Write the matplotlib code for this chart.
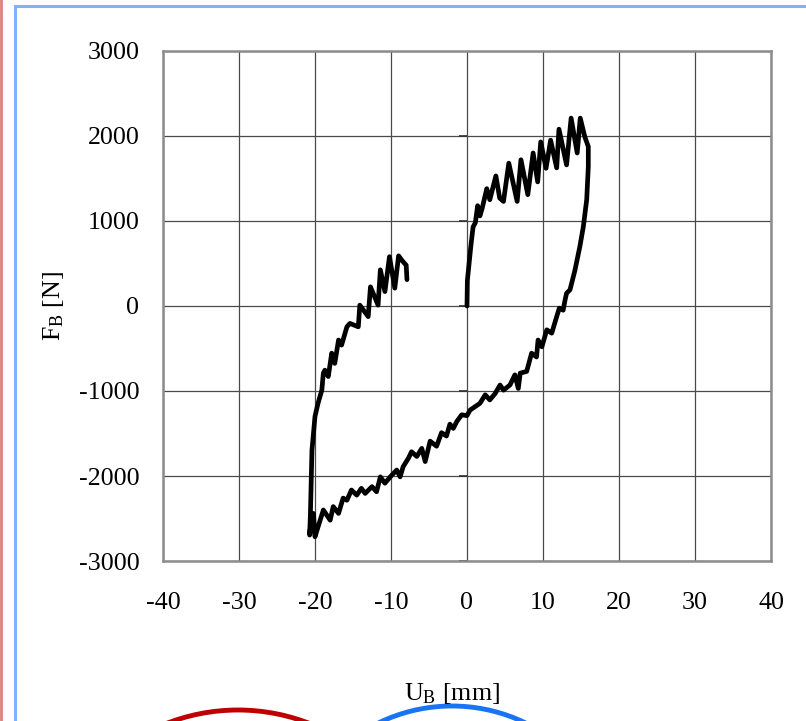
import numpy as np
import matplotlib.pyplot as plt
from matplotlib.lines import Line2D
from matplotlib.patches import Ellipse

plt.rcParams['font.family'] = ['Liberation Serif', 'DejaVu Serif']
plt.rcParams['mathtext.fontset'] = 'custom'
plt.rcParams['mathtext.rm'] = 'Liberation Serif'
plt.rcParams['axes.unicode_minus'] = False

# hysteresis trace, displacement U_B [mm] and force F_B [N]
u_mm = [0, 0.05, 0.5, 0.8, 1.1, 1.4, 1.7, 2.0, 2.6, 3.0, 3.8, 4.3, 4.8, 5.5, 6.6, 7.1,
        8.0, 8.7, 9.3, 9.7, 10.4, 11.0, 11.8, 12.1, 13.1, 13.7, 14.5, 14.9, 15.5, 15.96,
        15.96, 15.75, 15.3, 14.85, 14.2, 13.55, 13.1, 12.9, 12.65, 12.15, 11.8, 11.15,
        10.5, 9.85, 9.35, 9.15, 8.5, 7.85, 7.0, 6.75, 6.3, 5.65, 4.8, 4.35, 3.7, 3.0,
        2.4, 1.7, 1.05, 0.4, 0.0, -0.7, -1.35, -1.8, -2.25, -2.7, -3.35, -4.0, -4.85,
        -5.5, -5.95, -6.6, -7.3, -7.7, -8.4, -8.8, -9.25, -10.1, -10.8, -11.4, -11.9,
        -12.5, -13.4, -13.9, -14.5, -15.2, -15.8, -16.3, -16.9, -17.6, -18.0, -18.9,
        -19.6, -20.0, -20.2, -20.6, -20.7, -20.6, -20.4, -20.0, -19.6, -19.1, -18.9,
        -18.7, -18.25, -17.8, -17.4, -16.9, -16.5, -15.8, -15.4, -14.3, -14.1, -13.0,
        -12.7, -11.7, -11.4, -10.8, -10.2, -9.5, -9.0, -8.5, -8.0, -7.9]
f_n = [0, 300, 700, 930, 980, 1180, 1060, 1150, 1380, 1250, 1530, 1270, 1230, 1680, 1230, 1720,
       1310, 1800, 1460, 1930, 1620, 1950, 1625, 2080, 1660, 2210, 1800, 2210, 1990, 1875,
       1640, 1250, 930, 700, 420, 190, 150, 70, -50, -25, -125, -320,
       -280, -480, -400, -600, -555, -770, -790, -970, -810, -930, -990, -930, -1030, -1105,
       -1045, -1145, -1185, -1225, -1290, -1280, -1360, -1440, -1390, -1530, -1490, -1650, -1590,
       -1830, -1675, -1770, -1715, -1790, -1890, -2010, -1930, -2010, -2085, -2010, -2185,
       -2125, -2205, -2145, -2225, -2165, -2285, -2260, -2440, -2360, -2520, -2400,
       -2600, -2715, -2440, -2600, -2695, -2440, -1700, -1300, -1145, -990, -790,
       -755, -830, -555, -675, -400, -460, -245, -205, -245, 10, -125,
       225, 10, 425, 170, 580, 210, 590, 530, 480, 310]

x_ticks = [-40, -30, -20, -10, 0, 10, 20, 30, 40]
y_ticks = [-3000, -2000, -1000, 0, 1000, 2000, 3000]

fig = plt.figure(figsize=(8.06, 7.21), dpi=100)
ax = fig.add_axes([0.2022, 0.2219, 0.7544, 0.7074])

ax.plot(u_mm, f_n, color='black', lw=3.4, solid_joinstyle='round',
        solid_capstyle='round', zorder=3)

ax.set_xlim(-40, 40)
ax.set_ylim(-3000, 3000)
ax.set_xticks(x_ticks)
ax.set_yticks(y_ticks)
ax.grid(True, color='#4a4a4a', lw=0.9)
ax.tick_params(axis='both', length=0, labelsize=18.7)
ax.tick_params(axis='x', pad=22)
ax.tick_params(axis='y', pad=17)
for s in ax.spines.values():
    s.set_color('#8c8c8c')
    s.set_linewidth(1.8)

# short ticks where the y axis crosses x = 0
ax.hlines(y_ticks, -1.05, 0, color='#303030', lw=1.2, zorder=2)

fig.text(53 / 806, 1 - 306 / 721, r'F$\mathregular{_B}$ [N]', rotation=90,
         ha='center', va='center', fontsize=18.7)
fig.text(452 / 806, 1 - 693 / 721, r'U$\mathregular{_B}$ [mm]',
         ha='center', va='center', fontsize=18.7)

# surrounding frame lines
fig.add_artist(Line2D([15 / 806, 1], [1 - 6 / 721, 1 - 6 / 721], color='#80b0ff', lw=2.2))
fig.add_artist(Line2D([15 / 806, 15 / 806], [0, 1 - 6 / 721], color='#80b0ff', lw=2.2))
fig.add_artist(Line2D([0.5 / 806, 0.5 / 806], [0, 1], color='#e08080', lw=2))

# partial circles at bottom edge
for cx, top, r, col in [(238, 710, 197, '#c00000'), (452, 706, 168, '#1874f5')]:
    fig.add_artist(Ellipse((cx / 806, 1 - (top + r) / 721), 2 * r / 806, 2 * r / 721,
                           fill=False, edgecolor=col, lw=3.5))

plt.savefig('out.png', dpi=100)
